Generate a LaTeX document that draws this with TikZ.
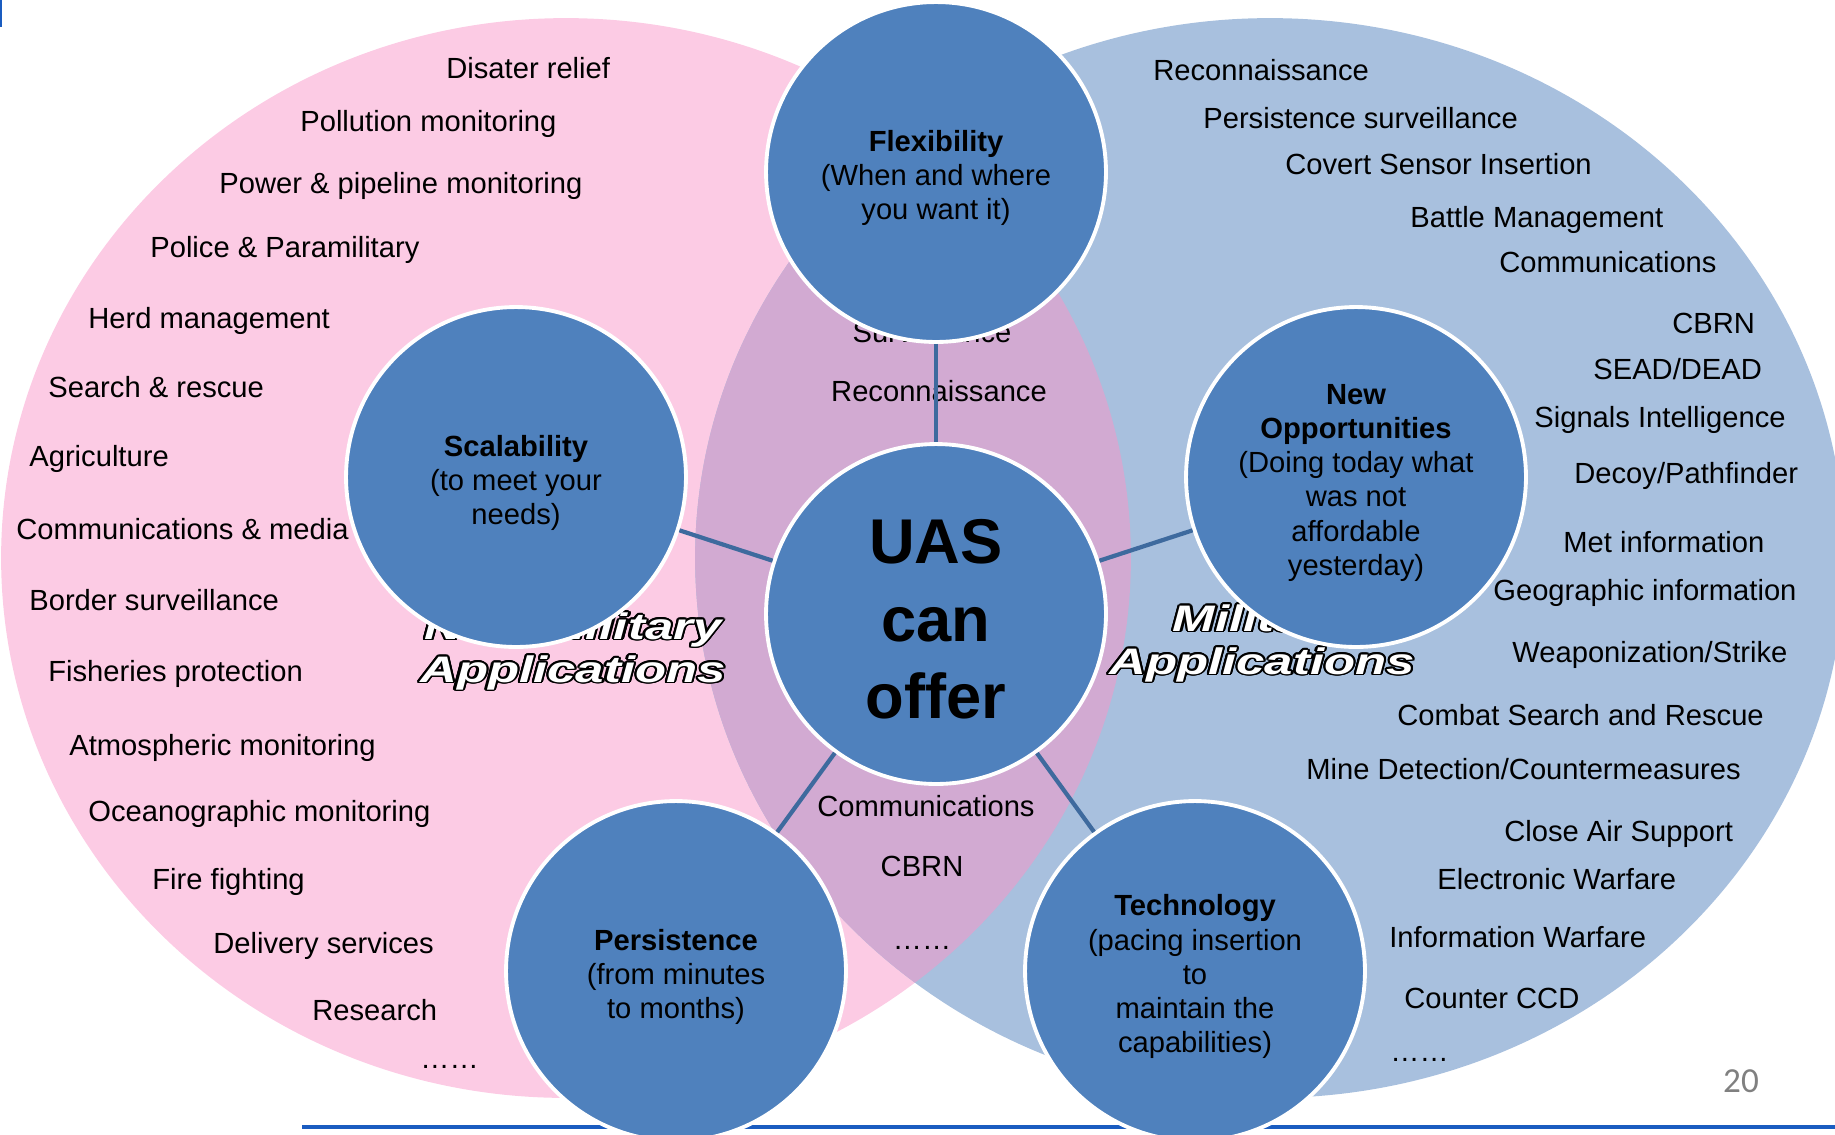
\documentclass[tikz,border=0pt]{standalone}
\usepackage{fontspec}
\setmainfont{Liberation Sans}
\newfontfamily\pagefont{Carlito}
\usepackage{graphicx}
\usepackage{contour}
\contourlength{0.9pt}
\definecolor{civpink}{HTML}{FCCBE4}
\definecolor{milblue}{HTML}{A8C0DE}
\definecolor{bothpurple}{HTML}{D2AAD2}
\definecolor{offerblue}{HTML}{4F81BD}
\definecolor{linkblue}{HTML}{3E6A9E}
\definecolor{ruleblue}{HTML}{1A5CC0}
\newcommand{\outlined}[1]{\scalebox{1.38}[1]{\contour{black}{#1}}}
\tikzset{
 listitem/.style={anchor=base west, inner sep=0pt, font=\fontsize{16.6}{19.5}\selectfont},
 miditem/.style={anchor=base, inner sep=0pt, font=\fontsize{16.6}{19.5}\selectfont},
 offer/.style={circle, fill=offerblue, draw=white, line width=2.2pt, minimum size=6.8cm,
   inner sep=0pt},
 offertext/.style={align=center, inner sep=0pt, font=\fontsize{16.6}{19.5}\selectfont},
 link/.style={draw=linkblue, line width=2.4pt},
 wordart/.style={align=center, inner sep=0pt, text=white,
   font=\fontsize{21}{24.5}\selectfont\bfseries\itshape}
}
\begin{document}
\begin{tikzpicture}[x=0.02cm, y=-0.02cm]
 \useasboundingbox (0,0) rectangle (1835,1134);
 \fill[ruleblue] (0,0) rectangle (2,27);
 %
 \fill[civpink] (566,558) ellipse [x radius=11.3cm, y radius=10.8cm];
 \fill[milblue] (1270,558) ellipse [x radius=11.5cm, y radius=10.8cm];
 \begin{scope}
  \clip (566,558) ellipse [x radius=11.3cm, y radius=10.8cm];
  \fill[bothpurple] (1270,558) ellipse [x radius=11.5cm, y radius=10.8cm];
 \end{scope}
 %
 \node[listitem] (c1) at (446,78) {Disater relief};
 \node[listitem] (c2) at (300,131) {Pollution monitoring};
 \node[listitem] (c3) at (219,193) {Power \& pipeline monitoring};
 \node[listitem] (c4) at (150,257) {Police \& Paramilitary};
 \node[listitem] (c5) at (88,328) {Herd management};
 \node[listitem] (c6) at (48,397) {Search \& rescue};
 \node[listitem] (c7) at (29,466) {Agriculture};
 \node[listitem] (c8) at (16,539) {Communications \& media};
 \node[listitem] (c9) at (29,610) {Border surveillance};
 \node[listitem] (c10) at (48,681) {Fisheries protection};
 \node[listitem] (c11) at (69,755) {Atmospheric monitoring};
 \node[listitem] (c12) at (88,821) {Oceanographic monitoring};
 \node[listitem] (c13) at (152,889) {Fire fighting};
 \node[listitem] (c14) at (213,953) {Delivery services};
 \node[listitem] (c15) at (312,1020) {Research};
 \node[listitem] (c16) at (420,1068) {……};
 %
 \node[miditem] (b1) at (932,342) {Surveillance};
 \node[miditem] (b2) at (939,401) {Reconnaissance};
 \node[miditem] (b3) at (926,816) {Communications};
 \node[miditem] (b4) at (922,876) {CBRN};
 \node[miditem] (b5) at (922,949) {……};
 %
 \node[listitem] (m1) at (1153,80) {Reconnaissance};
 \node[listitem] (m2) at (1203,128) {Persistence surveillance};
 \node[listitem] (m3) at (1285,174) {Covert Sensor Insertion};
 \node[listitem] (m4) at (1410,227) {Battle Management};
 \node[listitem] (m5) at (1499,272) {Communications};
 \node[listitem] (m6) at (1672,333) {CBRN};
 \node[listitem] (m7) at (1593,379) {SEAD/DEAD};
 \node[listitem] (m8) at (1534,427) {Signals Intelligence};
 \node[listitem] (m9) at (1574,483) {Decoy/Pathfinder};
 \node[listitem] (m10) at (1563,552) {Met information};
 \node[listitem] (m11) at (1493,600) {Geographic information};
 \node[listitem] (m12) at (1512,662) {Weaponization/Strike};
 \node[listitem] (m13) at (1397,725) {Combat Search and Rescue};
 \node[listitem] (m14) at (1306,779) {Mine Detection/Countermeasures};
 \node[listitem] (m15) at (1504,841) {Close Air Support};
 \node[listitem] (m16) at (1437,889) {Electronic Warfare};
 \node[listitem] (m17) at (1389,947) {Information Warfare};
 \node[listitem] (m18) at (1404,1008) {Counter CCD};
 \node[listitem] (m19) at (1390,1061) {……};
 %
 \node[wordart] (civlabel) at (573,652) {\outlined{Non-military}\\\outlined{Applications}};
 \node[wordart] (millabel) at (1262,644) {\outlined{Military}\\\outlined{Applications}};
 %
 \draw[ruleblue, line width=1.8pt] (302,1127) -- (1835,1127);
 \node[text=gray, font=\pagefont\fontsize{20}{24}\selectfont] (pagenum) at (1741,1081) {20};
 %
 \node[offer] (uas) at (936,614) {};
 \node[offer] (flex) at (936,172) {};
 \node[offer] (scale) at (516,477) {};
 \node[offer] (newopp) at (1356,477) {};
 \node[offer] (persist) at (676,971) {};
 \node[offer] (tech) at (1195,971) {};
 %
 \node[offertext, font=\fontsize{36}{44}\selectfont\bfseries] (uastext) at ([yshift=-3pt]uas.center) {UAS\\can\\offer};
 \node[offertext] (flextext) at ([yshift=-3.3pt]flex.center) {\textbf{Flexibility}\\(When and where\\you want it)};
 \node[offertext] (scaletext) at ([yshift=-3.3pt]scale.center) {\textbf{Scalability}\\(to meet your\\needs)};
 \node[offertext] (newopptext) at ([yshift=-3.3pt]newopp.center) {\textbf{New}\\\textbf{Opportunities}\\(Doing today what\\was not\\affordable\\yesterday)};
 \node[offertext] (persisttext) at ([yshift=-3.3pt]persist.center) {\textbf{Persistence}\\(from minutes\\to months)};
 \node[offertext] (techtext) at ([yshift=-3.3pt]tech.center) {\textbf{Technology}\\(pacing insertion\\to\\maintain the\\capabilities)};
 %
 \draw[link] (flex) -- (uas);
 \draw[link] (scale) -- (uas);
 \draw[link] (newopp) -- (uas);
 \draw[link] (persist) -- (uas);
 \draw[link] (tech) -- (uas);
\end{tikzpicture}
\end{document}
